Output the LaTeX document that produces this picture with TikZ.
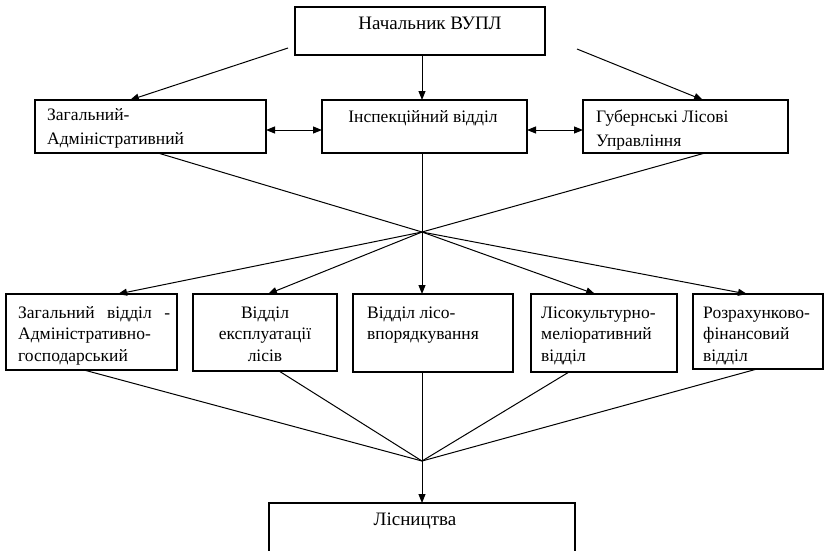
\documentclass[tikz,border=0pt]{standalone}
\usepackage{fontspec}
\setmainfont{Liberation Serif}
\usetikzlibrary{arrows.meta,calc}
\begin{document}
\begin{tikzpicture}[x=1pt,y=-1pt,
  box/.style={draw=black,line width=1.2pt,rectangle,inner sep=0pt,outer sep=0pt,anchor=north west},
  arr/.style={line width=1pt,-{Triangle[length=9pt,width=7pt]}},
  darr/.style={line width=1pt,{Triangle[length=9pt,width=7pt]}-{Triangle[length=9pt,width=7pt]}},
  conn/.style={line width=1pt},
  lbl/.style={inner sep=0pt,font=\fontsize{17.5}{24}\selectfont},
  lbltop/.style={inner sep=0pt,font=\fontsize{19}{24}\selectfont},
  lblb/.style={inner sep=0pt,font=\fontsize{17.5}{21.5}\selectfont}]
\useasboundingbox (0,0) rectangle (826,550);
\begin{scope}
\clip (0,0) rectangle (826,550);
% boxes
\node[box,minimum width=250pt,minimum height=48pt] (top) at (295,7) {};
\node[box,minimum width=231pt,minimum height=53pt] (z) at (35,100) {};
\node[box,minimum width=205pt,minimum height=53pt] (insp) at (322,100) {};
\node[box,minimum width=205pt,minimum height=53pt] (gub) at (583,100) {};
\node[box,minimum width=171pt,minimum height=76pt] (b1) at (6,294) {};
\node[box,minimum width=144pt,minimum height=77pt] (b2) at (193,294) {};
\node[box,minimum width=160pt,minimum height=78pt] (b3) at (353,294) {};
\node[box,minimum width=146pt,minimum height=78pt] (b4) at (531,294) {};
\node[box,minimum width=130pt,minimum height=75pt] (b5) at (693,294) {};
\node[box,minimum width=306pt,minimum height=80pt] (lis) at (269,503) {};
% labels
\node[lbltop,anchor=base] (ttop) at (430,29) {Начальник ВУПЛ};
\node[lbl,anchor=base west] (tz) at (47,120) {\begin{tabular}[t]{@{}l@{}}Загальний-\\Адміністративний\end{tabular}};
\node[lbl,anchor=base] (tinsp) at (423,122) {Інспекційний відділ};
\node[lbl,anchor=base west] (tgub) at (596,122) {\begin{tabular}[t]{@{}l@{}}Губернські Лісові\\Управління\end{tabular}};
\node[lblb,anchor=base west] (tb1) at (18,318) {\begin{tabular}[t]{@{}l@{}}\makebox[152pt][s]{Загальний відділ -}\\Адміністративно-\\господарський\end{tabular}};
\node[lblb,anchor=base] (tb2) at (265,318) {\begin{tabular}[t]{@{}c@{}}Відділ\\експлуатації\\лісів\end{tabular}};
\node[lblb,anchor=base west] (tb3) at (367,318) {\begin{tabular}[t]{@{}l@{}}Відділ лісо-\\впорядкування\end{tabular}};
\node[lblb,anchor=base west] (tb4) at (541,318) {\begin{tabular}[t]{@{}l@{}}Лісокультурно-\\меліоративний\\відділ\end{tabular}};
\node[lblb,anchor=base west] (tb5) at (703,318) {\begin{tabular}[t]{@{}l@{}}Розрахунково-\\фінансовий\\відділ\end{tabular}};
\node[lbltop,anchor=base] (tlis) at (415,525) {Лісництва};
% junction coordinates
\coordinate (c1) at (422,232);
\coordinate (c2) at (422,461);
\coordinate (t1) at (288,48);
\coordinate (t2) at (577,49);
% top level arrows
\draw[arr] (t1) -- ($(z.north west)+(95,0)$);
\draw[arr] (c1 |- top.south) -- (c1 |- insp.north);
\draw[arr] (t2) -- ($(gub.north west)+(120,0)$);
% double arrows
\draw[darr] ($(z.east)+(0,3.5)$) -- ($(insp.west)+(0,3.5)$);
\draw[darr] ($(insp.east)+(0,3.5)$) -- ($(gub.west)+(0,3.5)$);
% to first junction
\draw[conn] ($(z.south west)+(123,0)$) -- (c1);
\draw[conn] (c1 |- insp.south) -- (c1);
\draw[conn] ($(gub.south west)+(122,0)$) -- (c1);
% from first junction
\draw[arr] (c1) -- ($(b1.north west)+(112,0)$);
\draw[arr] (c1) -- ($(b2.north west)+(75,0)$);
\draw[arr] (c1) -- (c1 |- b3.north);
\draw[arr] (c1) -- ($(b4.north west)+(64,0)$);
\draw[arr] (c1) -- ($(b5.north west)+(54,0)$);
% to second junction
\draw[conn] ($(b1.south west)+(78,0)$) -- (c2);
\draw[conn] ($(b2.south west)+(86,0)$) -- (c2);
\draw[conn] (c2 |- b3.south) -- (c2);
\draw[conn] ($(b4.south west)+(38,0)$) -- (c2);
\draw[conn] ($(b5.south west)+(64,0)$) -- (c2);
\draw[arr] (c2) -- (c2 |- lis.north);
\end{scope}
\end{tikzpicture}
\end{document}
